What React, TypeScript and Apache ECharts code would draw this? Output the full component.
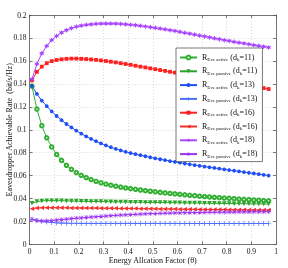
import React, { useEffect, useRef } from "react";
import * as echarts from "echarts";

const xs = [0.01,0.03,0.05,0.07,0.09,0.11,0.13,0.15,0.17,0.19,0.21,0.23,0.25,0.27,0.29,0.31,0.33,0.35,0.37,0.39,0.41,0.43,0.45,0.47,0.49,0.51,0.53,0.55,0.57,0.59,0.61,0.63,0.65,0.67,0.69,0.71,0.73,0.75,0.77,0.79,0.81,0.83,0.85,0.87,0.89,0.91,0.93,0.95,0.97];

const greenActive = [0.1380,0.1180,0.1035,0.0930,0.0850,0.0785,0.0733,0.0690,0.0655,0.0627,0.0603,0.0583,0.0566,0.0551,0.0538,0.0527,0.0517,0.0508,0.0500,0.0493,0.0487,0.0481,0.0475,0.0469,0.0464,0.0459,0.0454,0.0449,0.0445,0.0441,0.0437,0.0433,0.0429,0.0425,0.0421,0.0418,0.0414,0.0411,0.0408,0.0405,0.0402,0.0399,0.0396,0.0393,0.0391,0.0388,0.0386,0.0383,0.0381];
const greenPassive = [0.0360,0.0374,0.0380,0.0382,0.0382,0.0382,0.0381,0.0380,0.0379,0.0378,0.0377,0.0376,0.0375,0.0375,0.0374,0.0373,0.0372,0.0371,0.0371,0.0370,0.0369,0.0369,0.0368,0.0367,0.0367,0.0366,0.0365,0.0365,0.0364,0.0364,0.0363,0.0362,0.0362,0.0361,0.0361,0.0360,0.0359,0.0359,0.0358,0.0358,0.0357,0.0356,0.0356,0.0355,0.0355,0.0354,0.0354,0.0353,0.0352];
const blueActive = [0.1381,0.1312,0.1254,0.1205,0.1160,0.1120,0.1083,0.1050,0.1020,0.0992,0.0966,0.0942,0.0920,0.0900,0.0881,0.0864,0.0848,0.0833,0.0820,0.0808,0.0797,0.0787,0.0778,0.0769,0.0760,0.0751,0.0743,0.0735,0.0727,0.0720,0.0713,0.0706,0.0699,0.0692,0.0686,0.0679,0.0673,0.0667,0.0661,0.0655,0.0649,0.0643,0.0637,0.0631,0.0625,0.0619,0.0613,0.0607,0.0601];
const bluePassive = [0.0220,0.0210,0.0202,0.0196,0.0192,0.0189,0.0187,0.0186,0.0185,0.0185,0.0184,0.0184,0.0184,0.0184,0.0184,0.0184,0.0184,0.0184,0.0184,0.0184,0.0184,0.0184,0.0184,0.0184,0.0184,0.0184,0.0184,0.0184,0.0184,0.0184,0.0183,0.0183,0.0183,0.0183,0.0183,0.0183,0.0183,0.0183,0.0183,0.0183,0.0183,0.0183,0.0183,0.0183,0.0183,0.0183,0.0183,0.0183,0.0183];
const redActive = [0.1430,0.1505,0.1550,0.1580,0.1598,0.1608,0.1614,0.1618,0.1620,0.1620,0.1618,0.1616,0.1613,0.1609,0.1604,0.1599,0.1593,0.1587,0.1580,0.1573,0.1566,0.1558,0.1550,0.1543,0.1535,0.1528,0.1520,0.1513,0.1505,0.1498,0.1490,0.1483,0.1475,0.1468,0.1460,0.1453,0.1445,0.1438,0.1430,0.1423,0.1415,0.1408,0.1400,0.1393,0.1385,0.1378,0.1370,0.1363,0.1355];
const redPassive = [0.0312,0.0318,0.0320,0.0321,0.0321,0.0321,0.0320,0.0320,0.0319,0.0319,0.0318,0.0318,0.0317,0.0317,0.0316,0.0316,0.0315,0.0315,0.0314,0.0314,0.0313,0.0313,0.0312,0.0312,0.0311,0.0311,0.0310,0.0310,0.0309,0.0309,0.0308,0.0308,0.0307,0.0307,0.0306,0.0306,0.0305,0.0305,0.0304,0.0304,0.0303,0.0303,0.0302,0.0302,0.0301,0.0301,0.0300,0.0300,0.0300];
const purpleActive = [0.1440,0.1573,0.1666,0.1730,0.1782,0.1817,0.1846,0.1868,0.1885,0.1898,0.1907,0.1914,0.1919,0.1922,0.1924,0.1925,0.1925,0.1924,0.1922,0.1919,0.1915,0.1911,0.1906,0.1900,0.1894,0.1888,0.1882,0.1875,0.1868,0.1861,0.1853,0.1845,0.1837,0.1829,0.1821,0.1813,0.1805,0.1797,0.1789,0.1781,0.1774,0.1766,0.1759,0.1752,0.1745,0.1738,0.1731,0.1724,0.1717];
const purplePassive = [0.0220,0.0210,0.0205,0.0206,0.0209,0.0213,0.0217,0.0221,0.0225,0.0229,0.0232,0.0236,0.0239,0.0242,0.0245,0.0248,0.0251,0.0254,0.0256,0.0259,0.0261,0.0263,0.0265,0.0267,0.0269,0.0270,0.0272,0.0273,0.0274,0.0275,0.0276,0.0277,0.0278,0.0279,0.0279,0.0280,0.0281,0.0281,0.0282,0.0282,0.0283,0.0283,0.0284,0.0284,0.0284,0.0285,0.0285,0.0285,0.0286];

const seriesKinds = ["Eve active", "Eve passive", "Eve active", "Eve passive", "Eve active", "Eve passive", "Eve active", "Eve passive"];
const dkValues = ["11", "11", "13", "13", "16", "16", "18", "18"];
const seriesValues = [greenActive, greenPassive, blueActive, bluePassive, redActive, redPassive, purpleActive, purplePassive];

const xTitle = "Energy Allcation Factor (θ)";
const yTitle = "Eavesdropper Achievable Rate  (bit/s/Hz)";

const FONT = "'Liberation Serif', 'DejaVu Serif', serif";

const PLUS = "path://M4.3,0h1.4v10h-1.4z M0,4.3h10v1.4h-10z";
const STAR = "path://M4.5,0h1v10h-1z M0,4.5h10v1h-10z M1.5,0.8L9.2,8.5L8.5,9.2L0.8,1.5z M8.5,0.8L9.2,1.5L1.5,9.2L0.8,8.5z";
const HEX = "path://M5,0L6.2,3L9.3,2.5L7.3,5L9.3,7.5L6.2,7L5,10L3.8,7L0.7,7.5L2.7,5L0.7,2.5L3.8,3Z";

const styles = [
  { color: "#33b033", symbol: "emptyCircle", size: 3.5, rotate: 0 },
  { color: "#2aa52a", symbol: "triangle", size: 4.5, rotate: 180 },
  { color: "#1f4ff5", symbol: "circle", size: 3.8, rotate: 0 },
  { color: "#4d6cff", symbol: PLUS, size: 5, rotate: 0 },
  { color: "#ff2020", symbol: "rect", size: 3.8, rotate: 0 },
  { color: "#f53030", symbol: "triangle", size: 4.5, rotate: 90 },
  { color: "#a846ff", symbol: HEX, size: 5.5, rotate: 0 },
  { color: "#9a35f0", symbol: STAR, size: 5, rotate: 0 },
];

export default function App() {
  const ref = useRef<HTMLDivElement>(null);
  useEffect(() => {
    document.body.style.margin = "0";
    const chart = echarts.init(ref.current!, null, { renderer: "svg" });
    const names = seriesKinds.map((k, i) => `${k} ${dkValues[i]} #${i}`);
    const series = seriesValues.map((vals, i) => ({
      name: names[i],
      type: "line",
      data: xs.map((x, j) => [x, vals[j]]),
      symbol: styles[i].symbol,
      symbolSize: styles[i].size,
      symbolRotate: styles[i].rotate,
      showAllSymbol: true,
      lineStyle: { color: styles[i].color, width: 1 },
      itemStyle: { color: styles[i].color, borderColor: styles[i].color, borderWidth: styles[i].symbol === "emptyCircle" ? 1 : 0 },
      z: 2 + (i % 2),
    }));
    const axisCommon = {
      type: "value" as const,
      axisLine: { show: true, onZero: false, lineStyle: { color: "#555", width: 0.8 } },
      axisTick: { show: true, inside: true, length: 3, lineStyle: { color: "#555", width: 0.8 } },
    };
    chart.setOption({
      animation: false,
      grid: { left: 29.5, right: 12, top: 15, bottom: 23.5, outerBoundsMode: "none", containLabel: false },
      xAxis: [
        {
          ...axisCommon,
          min: 0, max: 1, interval: 0.1,
          position: "bottom",
          name: xTitle,
          nameLocation: "middle",
          nameGap: 12,
          nameMoveOverlap: false,
          nameTextStyle: { fontFamily: FONT, fontSize: 8, color: "#111" },
          axisLabel: { fontFamily: FONT, fontSize: 7.5, color: "#111", margin: 3 },
          splitLine: { show: true, lineStyle: { color: "#d0d0d0", type: [1, 2], width: 0.8 } },
        },
        {
          ...axisCommon,
          min: 0, max: 1, interval: 0.1,
          position: "top",
          axisLabel: { show: false },
          splitLine: { show: false },
        },
      ],
      yAxis: [
        {
          ...axisCommon,
          min: 0, max: 0.2, interval: 0.02,
          position: "left",
          name: yTitle,
          nameLocation: "middle",
          nameGap: 16,
          nameMoveOverlap: false,
          nameTextStyle: { fontFamily: FONT, fontSize: 8, color: "#111" },
          axisLabel: { fontFamily: FONT, fontSize: 7.5, color: "#111", margin: 3 },
          splitLine: { show: true, lineStyle: { color: "#d0d0d0", type: [1, 2], width: 0.8 } },
        },
        {
          ...axisCommon,
          min: 0, max: 0.2, interval: 0.02,
          position: "right",
          axisLabel: { show: false },
          splitLine: { show: false },
        },
      ],
      legend: {
        orient: "vertical",
        left: 176,
        top: 48,
        itemWidth: 17,
        itemHeight: 5,
        itemGap: 3.8,
        padding: [4, 5, 3, 3],
        backgroundColor: "#fff",
        borderColor: "#555",
        borderWidth: 0.8,
        data: names,
        textStyle: {
          fontFamily: FONT,
          fontSize: 8,
          color: "#111",
          rich: {
            r: { fontFamily: FONT, fontSize: 8, color: "#111", verticalAlign: "top", lineHeight: 9 },
            s: { fontFamily: FONT, fontSize: 5, color: "#111", verticalAlign: "bottom", lineHeight: 6, padding: [5, 0, 0, 0] },
          },
        },
        formatter: (name: string) => {
          const i = names.indexOf(name);
          return `{r|R}{s|${seriesKinds[i]}}{r| (d}{s|k}{r|=${dkValues[i]})}`;
        },
      },
      series,
    });
    return () => chart.dispose();
  }, []);
  return <div ref={ref} style={{ position: "fixed", left: 0, top: 0, width: 288, height: 268 }} />;
}
